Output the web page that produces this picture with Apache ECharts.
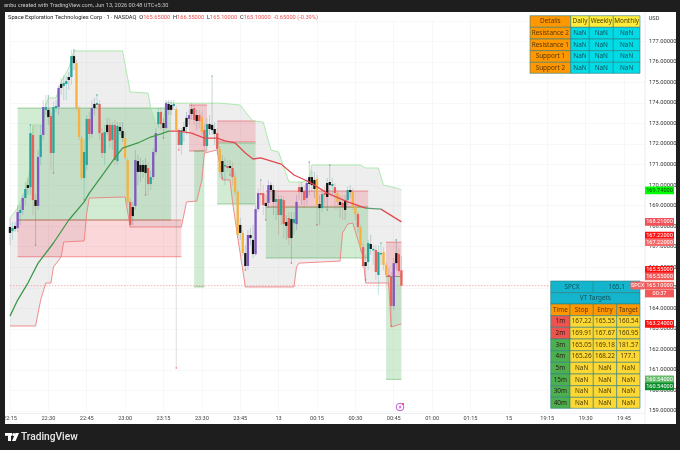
<!DOCTYPE html>
<html><head><meta charset="utf-8"><style>html,body{margin:0;padding:0;background:#1e1e1e}#c{width:680px;height:450px}</style>
<script src="https://cdn.jsdelivr.net/npm/echarts@6/dist/echarts.min.js"></script></head><body><div id="c"></div>
<script>
const xTickLabels=['22:15','22:30','22:45','23:00','23:15','23:30','23:45','13','00:15','00:30','00:45','01:00','01:15','15','19:15','19:30','19:45'];
const kinds=[
'k','t','k','p','t','p','t','k','t','r','k','p','t','p','t','k','r','t','t','p','k','t','t','k','t','k','o','o','o','t','t','r','p','k','t','r','r','t','k','r','t','r','t','k','k','o','o','r','k','p',
'k','k','k','k','r','t','p','p','t','r','k','p','k','k','t','o','r','t','k','k','p','k','r','k','r','o','r','t','k','k','k','r','o','k','t','r','k','r','o','o','k','o','k','p','k','k','p','p','r','r',
'k','p','k','k','t','r','t','r','k','r','k','t','p','r','k','r','p','k','k','k','o','k','t','r','k','k','t','r','o','k','r','k','t','k','o','o','r','o','r','k','t','k','t','r','t','t','o','o','r','r','p','k','r','r'];
const opens=[167.96,167.76,168.01,167.91,168.64,168.79,169.37,170.00,169.90,172.44,169.27,168.98,171.37,172.44,173.66,173.66,173.36,171.56,173.75,173.80,174.92,174.82,174.92,175.26,175.26,176.28,175.94,173.75,172.29,170.34,170.98,173.22,172.49,173.95,173.90,173.95,172.53,171.56,172.93,172.93,172.20,172.93,171.17,172.83,172.63,172.29,171.22,169.18,168.93,168.98,
171.17,170.98,170.98,170.98,170.83,170.05,170.39,171.61,172.97,173.56,173.02,172.78,173.95,173.90,173.85,173.70,172.68,171.95,172.83,173.27,173.22,173.70,173.75,173.41,173.41,173.31,172.68,171.90,172.97,172.93,172.73,172.53,171.76,171.17,170.93,170.93,170.93,170.83,170.39,169.66,168.06,167.67,166.69,166.06,167.57,167.33,166.64,168.83,169.61,169.61,
169.13,169.13,170.00,169.76,169.18,169.32,168.54,169.27,168.20,168.40,168.35,168.15,168.10,169.90,169.90,169.71,169.37,170.39,170.39,170.25,170.30,169.08,168.88,169.61,170.10,170.15,169.95,169.90,169.61,169.18,169.13,169.27,169.27,169.76,169.66,168.93,168.59,167.96,166.98,166.25,166.25,167.13,166.84,166.84,165.62,166.64,166.74,166.11,165.62,165.53,164.11,166.69,166.64,165.85];
const closes=[167.67,167.91,167.86,168.69,168.79,169.37,169.81,169.86,172.53,169.27,168.98,171.37,172.44,173.80,173.80,173.31,171.56,173.80,173.85,174.73,174.73,174.97,175.07,175.12,176.28,175.94,173.75,172.34,170.34,171.61,173.22,172.49,173.75,173.75,174.00,172.53,171.56,172.58,172.58,172.15,172.93,171.22,172.88,172.63,172.29,171.32,169.18,168.06,168.49,171.22,
170.64,170.64,170.64,170.59,170.05,170.39,171.61,172.53,173.56,172.97,172.78,173.99,173.66,173.66,173.95,172.68,171.95,172.68,172.63,172.83,173.41,173.46,173.17,173.12,173.12,172.58,171.90,172.97,172.73,172.68,172.49,171.76,170.64,170.64,170.98,170.83,170.83,170.39,169.66,167.57,167.67,166.69,166.06,167.57,167.42,166.64,168.83,169.61,169.52,169.03,
168.98,170.00,169.76,169.18,169.32,168.54,169.32,168.10,168.01,167.42,167.42,168.35,169.18,169.66,169.66,169.27,170.10,170.05,170.00,169.81,169.03,168.88,169.56,169.52,169.42,170.00,170.05,169.61,169.18,169.03,168.93,168.79,169.76,169.66,168.93,168.59,167.96,166.98,166.06,166.06,167.18,166.89,166.89,165.77,166.74,166.69,166.11,165.62,165.53,164.11,166.20,166.20,165.81,165.10];
const highs=[168.40,168.20,168.20,169.03,169.03,169.52,170.15,170.34,172.93,172.93,169.56,171.71,172.93,174.14,174.39,174.34,173.56,174.05,174.14,174.87,175.21,175.36,175.31,175.50,176.58,176.58,176.09,173.85,172.39,172.20,173.41,173.56,174.14,174.24,174.39,174.14,172.78,172.93,173.27,173.27,173.07,173.17,173.07,173.07,173.07,172.58,171.32,169.37,169.18,171.71,
171.46,171.32,171.22,171.32,171.12,170.73,171.80,172.78,173.75,173.75,173.27,174.14,174.14,174.14,174.14,173.85,172.78,172.78,173.07,173.56,173.66,173.99,173.90,173.66,173.66,173.56,172.93,173.27,173.41,175.31,173.07,172.78,171.90,171.46,171.32,171.22,171.22,171.12,170.64,169.76,168.40,167.81,167.08,167.81,167.91,168.06,169.03,169.86,170.25,170.00,
169.52,170.25,170.15,170.00,169.66,169.52,169.52,169.47,168.54,168.69,168.69,168.69,169.52,170.15,170.15,170.00,170.34,171.12,170.73,170.64,170.49,169.52,169.76,169.95,170.34,170.98,170.34,170.10,169.76,169.52,169.52,169.52,169.95,170.00,169.86,169.03,168.69,168.06,167.18,166.60,167.33,167.57,167.08,167.08,167.08,167.18,166.98,166.25,165.96,165.77,166.45,167.33,166.94,166.55];
const lows=[167.08,167.33,167.71,167.71,168.06,168.54,169.03,169.52,169.52,168.54,167.08,168.79,170.98,172.20,173.41,172.93,170.73,170.59,173.56,173.41,174.39,174.14,174.14,174.63,174.87,175.60,173.66,172.20,170.25,169.27,170.73,172.20,172.29,173.41,173.75,172.20,171.32,170.98,172.44,171.80,171.71,170.98,170.98,172.44,172.10,171.22,169.03,167.91,168.06,168.79,
170.00,170.15,170.34,169.52,169.52,169.76,170.25,171.46,172.78,172.68,172.29,172.68,173.41,173.41,173.66,161.09,171.71,171.46,172.10,172.44,172.93,173.17,172.93,172.68,172.78,172.44,171.71,171.71,172.44,172.44,171.95,171.46,170.34,170.34,170.00,170.64,170.49,170.00,169.52,167.42,167.33,166.55,165.86,165.86,167.08,166.45,166.55,168.69,169.03,168.54,
168.30,168.88,169.27,168.54,168.30,167.57,168.06,167.42,167.33,167.08,166.20,167.57,167.81,169.27,169.03,168.88,169.03,169.52,169.66,169.37,168.06,168.06,168.69,169.03,168.79,169.52,169.52,168.79,168.79,168.40,168.30,168.30,169.03,169.37,168.79,168.30,167.67,166.74,165.96,165.38,165.86,166.60,166.11,165.38,164.65,166.11,165.86,165.48,165.13,163.14,163.92,165.86,165.62,165.10];
const pivotLows=[10,17,29,53,60,65,66,83,86,92,100,110,120,124,139,149];
const pivotHighs=[8,15,25,34,79,98,117,125,145,151];
const upperIdx=[0,3,6,8,9,13,14,15,18,20,23,25,44,46,47,54,55,57,60,61,64,82,90,93,95,99,102,105,107,109,114,117,118,137,139,144,146,151,153];
const upperVal=[168.40,168.88,169.76,170.83,172.93,172.93,173.90,174.24,174.24,175.02,175.70,176.53,176.53,175.21,174.53,174.48,173.75,172.97,172.97,174.04,173.99,173.99,173.90,173.41,173.12,173.07,171.71,171.61,170.88,170.15,170.15,170.25,170.98,170.98,170.83,170.83,170.00,169.86,169.76];
const lowerIdx=[0,10,12,14,16,17,20,21,29,30,31,45,47,67,69,73,75,76,81,83,86,87,89,92,111,112,113,129,130,132,134,136,138,139,148,149,153];
const lowerVal=[163.14,163.14,164.40,165.23,165.23,166.01,166.50,167.23,167.28,168.64,169.37,169.42,167.96,167.96,169.18,169.22,170.25,171.56,171.71,170.25,170.25,169.18,167.47,165.04,165.04,166.01,166.20,166.30,167.67,168.10,168.15,167.33,166.50,165.23,165.23,163.09,163.24];
const maIdx=[0,3,7,11,17,23,29,31,41,44,50,55,59,62,66,71,76,81,84,88,92,95,98,106,111,117,124,132,139,145,153];
const maVal=[163.62,164.40,165.23,166.20,167.18,168.30,169.18,169.61,171.32,171.80,172.05,172.34,172.49,172.63,172.63,172.53,172.29,172.29,172.15,172.05,171.56,171.27,171.32,171.02,170.49,170.15,169.61,169.18,168.88,168.83,168.21];
const boxStart=[3,3,70,72,81,81,100,100,147,147];
const boxEnd=[63,67,77,76,96,96,140,140,153,153];
const boxTop=[173.75,168.30,173.90,171.66,173.12,172.05,169.71,168.93,167.22,165.55];
const boxBottom=[168.30,166.51,171.66,165.04,172.10,169.08,168.93,166.45,165.55,160.54];
const boxKind=['g','r','r','g','r','g','r','g','r','g'];
const lastPrice=165.10;
const tagPrice=[169.74,168.21,167.22,167.22,165.55,165.55,163.24,160.54,160.54,165.10];
const tagText=['169.74000','168.21000','167.22000','167.22000','165.55000','165.55000','163.24000','160.54000','160.54000','165.10000'];
const tagFill=['#00ff00','#f0525a','#ff1010','#f66a6a','#ff1010','#f25a5a','#ff1010','#66bb6a','#0a8f2a','#f25a5a'];
const tagInk=['#0a4a0a','#fff','#fff','#fff','#fff','#fff','#fff','#fff','#fff','#fff'];
const tagShift=[0,0,-6.5,0,-6.5,0,0,0,7,0];
const detailRows=[['Details','Daily','Weekly','Monthly'],['Resistance 2','NaN','NaN','NaN'],['Resistance 1','NaN','NaN','NaN'],['Support 1','NaN','NaN','NaN'],['Support 2','NaN','NaN','NaN']];
const targetHead=['Time','Stop','Entry','Target'];
const targetRows=[['1m','167.22','165.55','160.54'],['2m','169.91','167.67','160.95'],['3m','165.05','169.18','181.57'],['4m','165.26','168.22','177.1'],['5m','NaN','NaN','NaN'],['15m','NaN','NaN','NaN'],['30m','NaN','NaN','NaN'],['40m','NaN','NaN','NaN']];
const targetSide=['r','r','g','g','g','g','g','g'];

const C={t:'#26a69a',r:'#ea5f58',p:'#7e57c2',o:'#f6b23c',k:'#111111'};
const W={t:'rgba(38,166,154,.4)',r:'rgba(200,110,105,.4)',p:'rgba(126,87,194,.4)',o:'rgba(150,150,135,.45)',k:'rgba(90,120,120,.45)'};
const FONT='Roboto';
const pair=(a,b)=>a.map((x,k)=>[x,b[k]]);
const xMax=248.2;

function cell(x0,y0,x1,y1,fill,txt,ink,size){
  return [{type:'rect',z:60,shape:{x:x0,y:y0,width:x1-x0,height:y1-y0},style:{fill:fill,stroke:'#2b7f80',lineWidth:.6}},
  {type:'text',z:61,x:(x0+x1)/2,y:(y0+y1)/2,style:{text:txt,fill:ink||'#3a2a00',font:(size||6.4)+'px "Noto Sans"',align:'center',verticalAlign:'middle'}}];
}
const g=[];
g.push({type:'rect',z:-20,shape:{x:5,y:12,width:671,height:412},style:{fill:'#ffffff'}});
g.push({type:'rect',z:90,shape:{x:0,y:0,width:5,height:450},style:{fill:'#1e1e1e'}});
g.push({type:'rect',z:90,shape:{x:0,y:424,width:680,height:26},style:{fill:'#1e1e1e'}});
g.push({type:'line',z:1,shape:{x1:645,y1:12,x2:645,y2:424},style:{stroke:'#e4e6ec',lineWidth:.6}});
g.push({type:'text',z:91,x:4,y:6,style:{text:'anbu created with TradingView.com, Jun 13, 2026 00:48 UTC+5:30',fill:'#c8c8c8',font:'5.6px '+FONT,verticalAlign:'middle'}});
g.push({type:'text',z:62,x:8,y:18,style:{rich:{a:{fill:'#222',font:'5.7px '+FONT},b:{fill:'#ef5350',font:'5.7px '+FONT}},text:'{a|Space Exploration Technologies Corp · 1 · NASDAQ  O}{b|165.65000 }{a| H}{b|166.55000 }{a| L}{b|165.10000 }{a| C}{b|165.10000  -0.65000 (-0.39%)}',verticalAlign:'middle'}});
g.push({type:'text',z:62,x:654,y:19,style:{text:'USD',fill:'#333',font:'5.6px '+FONT,align:'center',verticalAlign:'middle'}});
// logo
g.push({type:'rect',z:91,shape:{x:5,y:433,width:7,height:2.8},style:{fill:'#fff'}});
g.push({type:'rect',z:91,shape:{x:8,y:433,width:3,height:8},style:{fill:'#fff'}});
g.push({type:'circle',z:91,shape:{cx:13.8,cy:434.6,r:1.5},style:{fill:'#fff'}});
g.push({type:'polygon',z:91,shape:{points:[[15.5,433],[19,433],[15.5,441],[12,441]]},style:{fill:'#fff'}});
g.push({type:'text',z:91,x:21,y:437.5,style:{text:'TradingView',fill:'#e8e8e8',font:'500 10.2px '+FONT,verticalAlign:'middle'}});
// lightning badge
g.push({type:'circle',z:62,shape:{cx:400,cy:407,r:3.8},style:{fill:'#fff',stroke:'#c35bd8',lineWidth:1}});
g.push({type:'polygon',z:63,shape:{points:[[400.6,404.4],[398.6,407.4],[400,407.4],[399.4,409.6],[401.6,406.4],[400.2,406.4]]},style:{fill:'#b44fd0'}});
g.push({type:'circle',z:63,shape:{cx:403,cy:404,r:1},style:{fill:'#f23645'}});
// table 1
const dx=[530,570.7,589.3,613.3,640],dy=[15.7,27.3,39,50.7,62.3,73.3];
detailRows.forEach((row,r)=>row.forEach((t,c)=>{
  const fill=c===0?'#ff9800':(r===0?'#ffeb3b':'#00dbe6');
  g.push(...cell(dx[c],dy[r],dx[c+1],dy[r+1],fill,t,c===0?'#5a3600':(r===0?'#4a4300':'#12505a')));
}));
// table 2
const tx=[550.7,570,593.3,616.7,640],ty=[281,292.7,304,315.7,327.3,339,350.7,362.3,374,385.7,397.3,408.3];
g.push(...cell(tx[0],ty[0],tx[2],ty[1],'#14b4cc','SPCX','#12505a'));
g.push(...cell(tx[2],ty[0],tx[4],ty[1],'#14b4cc','165.1','#12505a'));
g.push(...cell(tx[0],ty[1],tx[4],ty[2],'#14b4cc','VT Targets','#12505a'));
targetHead.forEach((t,c)=>g.push(...cell(tx[c],ty[2],tx[c+1],ty[3],'#ff9800',t,'#5a3600')));
targetRows.forEach((row,r)=>row.forEach((t,c)=>{
  const fill=c===0?(targetSide[r]==='r'?'#ef5350':'#4caf50'):'#fdd835';
  g.push(...cell(tx[c],ty[r+3],tx[c+1],ty[r+4],fill,t,c===0?'#2b1a10':'#4a3a00'));
}));
// symbol tag
g.push({type:'rect',z:64,shape:{x:630.5,y:281.5,width:14.5,height:8,r:1},style:{fill:'#ef6464'}});
g.push({type:'text',z:65,x:637.7,y:285.6,style:{text:'SPCX',fill:'#fff',font:'5.4px '+FONT,align:'center',verticalAlign:'middle'}});

const rows=opens.map((o,i)=>[i,o,closes[i],lows[i],highs[i]]);
const series=[
 {type:'custom',z:2,silent:true,data:[[0,0]],clip:false,renderItem(p,api){
   const pts=[];upperIdx.forEach((x,k)=>pts.push(api.coord([x,upperVal[k]])));
   for(let k=lowerIdx.length-1;k>=0;k--)pts.push(api.coord([lowerIdx[k],lowerVal[k]]));
   return {type:'polygon',shape:{points:pts},style:{fill:'rgba(120,123,134,.13)'}};
 }},
 {type:'custom',z:3,silent:true,clip:false,data:boxStart.map((s,i)=>[s,boxEnd[i],boxTop[i],boxBottom[i]]),encode:{x:[0,1],y:[2,3]},renderItem(p,api){
   const i=p.dataIndex,a=api.coord([api.value(0),api.value(2)]),b=api.coord([api.value(1),api.value(3)]);
   const red=boxKind[i]==='r',line=red?'rgba(236,72,80,.7)':'rgba(67,160,71,.6)';
   return {type:'group',children:[
    {type:'rect',shape:{x:a[0],y:a[1],width:b[0]-a[0],height:b[1]-a[1]},style:{fill:red?'rgba(242,54,69,.2)':'rgba(76,175,80,.25)'}},
    {type:'line',shape:{x1:a[0],y1:a[1],x2:b[0],y2:a[1]},style:{stroke:line,lineWidth:.8}},
    {type:'line',shape:{x1:a[0],y1:b[1],x2:b[0],y2:b[1]},style:{stroke:line,lineWidth:.8}}]};
 }},
 {type:'line',z:4,name:'last',symbol:'none',silent:true,data:[[0,lastPrice],[xMax,lastPrice]],lineStyle:{color:'#f47c7c',width:.6,type:[1.5,1.5]}},
 {type:'line',z:4,name:'upper',symbol:'none',silent:true,data:pair(upperIdx,upperVal),lineStyle:{color:'#a4e8a4',width:.9}},
 {type:'line',z:4,name:'lower',symbol:'none',silent:true,data:pair(lowerIdx,lowerVal),lineStyle:{color:'#ee8080',width:.9}},
 {type:'custom',z:5,silent:true,clip:false,data:rows,encode:{x:0,y:[1,2,3,4]},renderItem(p,api){
   const i=api.value(0),x=api.coord([i,0])[0],o=api.coord([i,api.value(1)])[1],c=api.coord([i,api.value(2)])[1],
     lo=api.coord([i,api.value(3)])[1],hi=api.coord([i,api.value(4)])[1],k=kinds[p.dataIndex],w=api.size([1,0])[0]*.9,
     top=Math.min(o,c),h=Math.max(Math.abs(o-c),1.4);
   return {type:'group',children:[
    {type:'line',shape:{x1:x,y1:hi,x2:x,y2:lo},style:{stroke:W[k],lineWidth:.7}},
    {type:'rect',shape:{x:x-w/2,y:top,width:w,height:h},style:{fill:C[k]}}]};
 }},
 {type:'scatter',z:6,silent:true,symbolSize:1.6,data:pivotLows.map(i=>[i,lows[i]]),itemStyle:{color:'#e0564f'}},
 {type:'scatter',z:6,silent:true,symbolSize:1.6,data:pivotHighs.map(i=>[i,highs[i]]),itemStyle:{color:'#5aa0a0'}},
 {type:'line',z:7,name:'ma',symbol:'none',silent:true,data:pair(maIdx,maVal),lineStyle:{width:1.3}},
 {type:'custom',z:20,silent:true,clip:false,data:tagPrice.map((v,i)=>[xMax,v]),encode:{x:0,y:1},renderItem(p,api){
   const i=p.dataIndex,y=api.coord([xMax,api.value(1)])[1]+tagShift[i];
   const ch=[{type:'rect',shape:{x:645,y:y-3.9,width:29,height:7.8,r:.6},style:{fill:tagFill[i]}},
     {type:'text',x:659.5,y:y,style:{text:tagText[i],fill:tagInk[i],font:'5.6px '+FONT,align:'center',verticalAlign:'middle'}}];
   if(i===9){ch.push({type:'rect',shape:{x:645,y:y+3.9,width:29,height:7.8},style:{fill:'#f25a5a'}},
     {type:'text',x:659.5,y:y+7.8,style:{text:'00:37',fill:'#fff',font:'5.6px '+FONT,align:'center',verticalAlign:'middle'}});}
   return {type:'group',children:ch};
 }}
];
const chart=echarts.init(document.getElementById('c'),null,{width:680,height:450});
chart.setOption({
 animation:false,backgroundColor:'#1e1e1e',
 grid:{left:6.4,width:638.6,top:20.77,height:390.23,show:false},
 xAxis:{type:'value',min:0,max:xMax,interval:15,offset:2,
   axisLine:{show:true,lineStyle:{color:'#e4e6ec',width:.6}},axisTick:{show:false},
   splitLine:{show:true,lineStyle:{color:'#f1f3f7',width:.6}},
   axisLabel:{fontFamily:FONT,fontSize:5.6,color:'#444',margin:3,showMinLabel:true,showMaxLabel:false,hideOverlap:false,
     formatter:v=>(v%15===0?xTickLabels[v/15]||'':'')}},
 yAxis:{type:'value',position:'right',min:159,max:178,interval:1,
   axisLine:{show:false},axisTick:{show:false},
   splitLine:{show:true,lineStyle:{color:'#f1f3f7',width:.6}},
   axisLabel:{fontFamily:FONT,fontSize:5.8,color:'#333',margin:4,showMaxLabel:false,formatter:v=>v.toFixed(5)}},
 visualMap:[{show:false,type:'piecewise',seriesIndex:8,dimension:0,
   pieces:[{lt:62,color:'#3f9a4c'},{gte:62,lt:139,color:'#e04a4f'},{gte:139,lt:145,color:'#5f9a70'},{gte:145,color:'#e04a4f'}]}],
 graphic:{elements:g},
 series:series
});
</script></body></html>
